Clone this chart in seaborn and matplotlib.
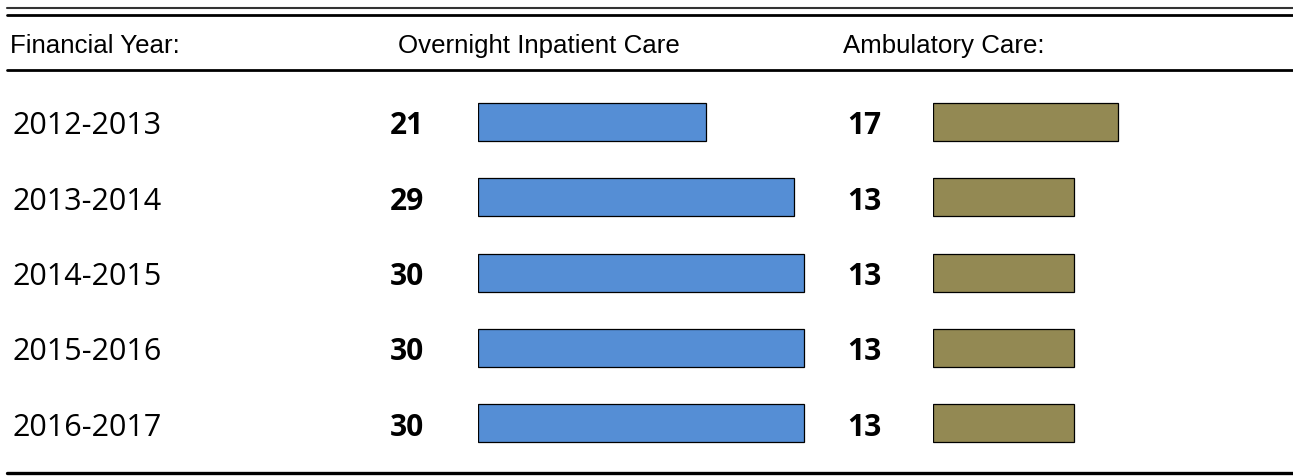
import matplotlib
matplotlib.use("Agg")
import matplotlib.pyplot as plt
import matplotlib.transforms as mtransforms
from matplotlib.lines import Line2D
import seaborn as sns
import pandas as pd

# Chart data
years = ["2012-2013", "2013-2014", "2014-2015", "2015-2016", "2016-2017"]
inpatient = [21, 29, 30, 30, 30]
ambulatory = [17, 13, 13, 13, 13]
headers = ["Financial Year:", "Overnight Inpatient Care", "Ambulatory Care:"]

df = pd.DataFrame({"Year": years, "Inpatient": inpatient, "Ambulatory": ambulatory})

sns.set_style("white")
plt.rcParams['font.family'] = ['Open Sans', 'DejaVu Sans']
plt.rcParams['text.color'] = 'black'

W, H = 1293, 476
fig = plt.figure(figsize=(W / 100, H / 100), dpi=100)

def px_rect(left, top, width, height):
    return [left / W, (H - top - height) / H, width / W, height / H]

row_top, row_bottom = 84.0, 461.2
scale = 10.88  # pixels per unit

ax_in = fig.add_axes(px_rect(478, row_top, 40 * scale, row_bottom - row_top))
ax_amb = fig.add_axes(px_rect(933, row_top, 20 * scale, row_bottom - row_top))

sns.barplot(data=df, x="Inpatient", y="Year", order=years, orient="h",
            color="#558ED5", saturation=1, edgecolor="black", linewidth=0.9,
            width=0.504, ax=ax_in)
sns.barplot(data=df, x="Ambulatory", y="Year", order=years, orient="h",
            color="#938953", saturation=1, edgecolor="black", linewidth=0.9,
            width=0.504, ax=ax_amb)

ax_in.set_xlim(0, 40)
ax_amb.set_xlim(0, 20)
for ax in (ax_in, ax_amb):
    ax.set_ylim(len(years) - 0.5, -0.5)
    ax.axis("off")

# Row labels and values
trans = mtransforms.blended_transform_factory(fig.transFigure, ax_in.transData)
for i, yr in enumerate(years):
    yb = i + 0.165
    ax_in.text(12 / W, yb, yr, transform=trans, fontsize=22, va="baseline",
               ha="left", color="black", clip_on=False)
    ax_in.text(390 / W, yb, str(inpatient[i]), transform=trans, fontsize=21.5,
               fontweight="bold", va="baseline", ha="left", color="black",
               clip_on=False)
    ax_in.text(847 / W, yb, str(ambulatory[i]), transform=trans, fontsize=21.5,
               fontweight="bold", va="baseline", ha="left", color="black",
               clip_on=False)

# Header row
for xpos, label in zip([10, 398, 843], headers):
    fig.text(xpos / W, (H - 53) / H, label, fontsize=18.6, va="baseline",
             ha="left", color="black", family=["Liberation Sans", "DejaVu Sans"])

# Rules
def hline(ypx, lw, color="black"):
    fig.add_artist(Line2D([7 / W, 1.0], [(H - ypx) / H] * 2, lw=lw,
                          color=color, transform=fig.transFigure))

hline(8, 1.5, "#333333")
hline(15, 2.0)
hline(70, 2.0)
hline(473, 2.4)

fig.savefig("out.png", dpi=100)
